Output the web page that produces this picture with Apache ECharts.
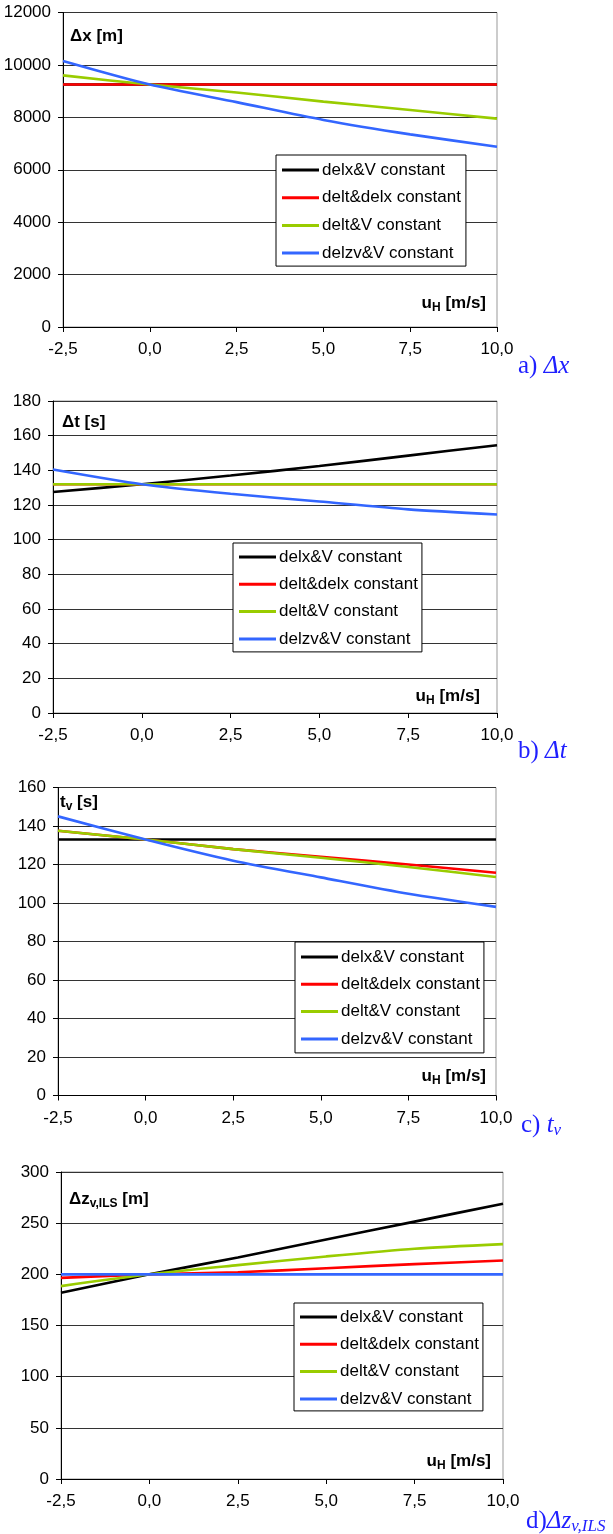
<!DOCTYPE html>
<html>
<head>
<meta charset="utf-8">
<script src="https://cdn.jsdelivr.net/npm/echarts@6/dist/echarts.min.js"></script>
<style>html,body{margin:0;padding:0;background:#fff}#c{width:613px;height:1534px}</style>
</head>
<body>
<div id="c"></div>
<script>
// ---- data ----
const uH = [-2.5, 0, 2.5, 5, 7.5, 10];
const seriesNames = ['delx&V constant', 'delt&delx constant', 'delt&V constant', 'delzv&V constant'];

// a) delta x [m]
const dx_delxV  = [9250, 9250, 9250, 9250, 9250, 9250];
const dx_deltDelx = [9250, 9250, 9250, 9250, 9250, 9250];
const dx_deltV  = [9600, 9250, 8950, 8600, 8280, 7950];
const dx_delzvV = [10150, 9250, 8580, 7900, 7350, 6880];

// b) delta t [s]
const dt_delxV  = [127.5, 132, 137, 142.5, 148.5, 154.5];
const dt_deltDelx = [132, 132, 132, 132, 132, 132];
const dt_deltV  = [132, 132, 132, 132, 132, 132];
const dt_delzvV = [140.5, 132, 126.5, 122, 117.5, 114.5];

// c) t_v [s]
const tv_delxV  = [133, 133, 133, 133, 133, 133];
const tv_deltDelx = [137.5, 133, 128, 124, 120, 115.7];
const tv_deltV  = [137.5, 133, 128, 123.5, 118.7, 113.5];
const tv_delzvV = [145, 133, 122, 113.3, 104.8, 98];

// d) delta z_v,ILS [m]
const dz_delxV  = [182, 200, 216.5, 234, 251.5, 269];
const dz_deltDelx = [196.5, 200, 202, 206, 210, 213.5];
const dz_deltV  = [188.5, 200, 209, 217.5, 225, 229.5];
const dz_delzvV = [200, 200, 200, 200, 200, 200];

const yMax = [12000, 180, 160, 300];
const yInterval = [2000, 20, 20, 50];
const xMin = -2.5, xMax = 10, xInterval = 2.5;

// ---- layout ----
const colors = ['#000000', '#ff0000', '#99cc00', '#3366ff'];
const FONT = "'Liberation Sans', Arial, sans-serif";
const SERIF = "'Liberation Serif', 'Times New Roman', serif";
const grids = [
  {left: 63, top: 12.5, width: 434, height: 314.5},
  {left: 53, top: 401, width: 444, height: 312},
  {left: 58, top: 787.5, width: 438, height: 308},
  {left: 61, top: 1172, width: 442, height: 307}
];
const legendPos = [
  {left: 276, top: 155, padding: [5, 5, 3, 6], itemGap: 7.7},
  {left: 233, top: 543, padding: [4, 4, 3, 6], itemGap: 7.3},
  {left: 295, top: 942, padding: [5, 4, 4, 6], itemGap: 7.3},
  {left: 294, top: 1303, padding: [4, 4, 2, 6], itemGap: 7.3}
];
const allData = [
  [dx_delxV, dx_deltDelx, dx_deltV, dx_delzvV],
  [dt_delxV, dt_deltDelx, dt_deltV, dt_delzvV],
  [tv_delxV, tv_deltDelx, tv_deltV, tv_delzvV],
  [dz_delxV, dz_deltDelx, dz_deltV, dz_delzvV]
];

const xAxes = [], yAxes = [], series = [], legends = [];
grids.forEach((g, i) => {
  g.show = true; g.borderColor = '#999'; g.borderWidth = 1; g.containLabel = false;
  xAxes.push({
    type: 'value', gridIndex: i, min: xMin, max: xMax, interval: xInterval,
    axisLine: {show: true, onZero: false, lineStyle: {color: '#000', width: 1}},
    axisTick: {show: true, length: 5, lineStyle: {color: '#000'}},
    splitLine: {show: false},
    axisLabel: {color: '#000', fontFamily: FONT, fontSize: 17, margin: 14,
      formatter: v => v.toFixed(1).replace('.', ',')}
  });
  yAxes.push({
    type: 'value', gridIndex: i, min: 0, max: yMax[i], interval: yInterval[i],
    axisLine: {show: true, onZero: false, lineStyle: {color: '#000', width: 1}},
    axisTick: {show: true, length: 5, lineStyle: {color: '#000'}},
    splitLine: {show: true, lineStyle: {color: '#333', width: 1}},
    axisLabel: {color: '#000', fontFamily: FONT, fontSize: 17, margin: 12,
      formatter: v => String(v)}
  });
  allData[i].forEach((arr, k) => {
    series.push({
      name: seriesNames[k], type: 'line', xAxisIndex: i, yAxisIndex: i,
      data: uH.map((x, j) => [x, arr[j]]),
      showSymbol: false, symbol: 'none', smooth: 0.25,
      lineStyle: {color: colors[k], width: 2.6},
      itemStyle: {color: colors[k]},
      z: 3 + k, animation: false
    });
  });
  const lp = legendPos[i];
  legends.push({
    orient: 'vertical', left: lp.left, top: lp.top, padding: lp.padding,
    itemWidth: 37, itemHeight: 3, icon: 'rect', itemGap: lp.itemGap,
    data: seriesNames, selectedMode: false,
    borderColor: '#000', borderWidth: 1, backgroundColor: '#fff',
    textStyle: {color: '#000', fontFamily: FONT, fontSize: 17, lineHeight: 20, padding: [0, 0, 0, -2]},
    z: 10
  });
});

function txt(x, y, align, rich, text) {
  return {type: 'text', x: x, y: y, z: 20,
    style: {text: text, rich: rich, align: align, verticalAlign: 'middle', fill: '#000'}};
}
const bold = {b: {fontFamily: FONT, fontSize: 17, fontWeight: 'bold', fill: '#000'},
  s: {fontFamily: FONT, fontSize: 12, fontWeight: 'bold', fill: '#000', padding: [10, 0, 0, 0]}};
const cap = {r: {fontFamily: SERIF, fontSize: 25, fill: '#1f1fff'},
  i: {fontFamily: SERIF, fontSize: 25, fontStyle: 'italic', fill: '#1f1fff'},
  si: {fontFamily: SERIF, fontSize: 17, fontStyle: 'italic', fill: '#1f1fff', padding: [12, 0, 0, 0]}};

const graphics = [
  txt(70, 36, 'left', bold, '{b|Δx [m]}'),
  txt(486, 303, 'right', bold, '{b|u}{s|H}{b| [m/s]}'),
  txt(62, 422, 'left', bold, '{b|Δt [s]}'),
  txt(480, 696, 'right', bold, '{b|u}{s|H}{b| [m/s]}'),
  txt(60, 802, 'left', bold, '{b|t}{s|v}{b| [s]}'),
  txt(486, 1076, 'right', bold, '{b|u}{s|H}{b| [m/s]}'),
  txt(69, 1199, 'left', bold, '{b|Δz}{s|v,ILS}{b| [m]}'),
  txt(491, 1461, 'right', bold, '{b|u}{s|H}{b| [m/s]}'),
  txt(518, 366, 'left', cap, '{r|a) }{i|Δx}'),
  txt(518, 751, 'left', cap, '{r|b) }{i|Δt}'),
  txt(521, 1125, 'left', cap, '{r|c) }{i|t}{si|v}'),
  txt(526, 1521, 'left', cap, '{r|d)}{i|Δz}{si|v,ILS}')
];

const chart = echarts.init(document.getElementById('c'), null, {renderer: 'canvas'});
chart.setOption({
  animation: false,
  backgroundColor: '#fff',
  grid: grids, xAxis: xAxes, yAxis: yAxes, series: series, legend: legends,
  graphic: graphics
});
</script>
</body>
</html>
